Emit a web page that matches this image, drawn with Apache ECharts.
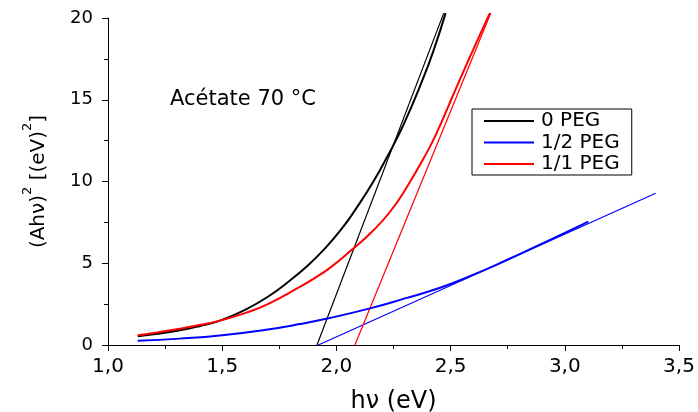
<!DOCTYPE html>
<html><head><meta charset="utf-8">
<script src="https://cdn.jsdelivr.net/npm/echarts@6/dist/echarts.min.js"></script>
<style>html,body{margin:0;padding:0;background:#fff}#c{width:698px;height:412px}</style>
</head><body><div id="c"></div><script>
// 0 PEG
const hv0 = [1.13,1.2,1.315,1.4,1.49,1.6,1.7,1.797,1.87,1.943,2.02,2.089,2.16,2.22,2.293,2.381,2.43,2.478];
const a0  = [0.53,0.66,0.9,1.15,1.49,2.15,2.95,3.95,4.8,5.8,7.05,8.4,9.95,11.45,13.45,16.35,18.2,20.3];
// 1/2 PEG
const hv12 = [1.13,1.315,1.5,1.7,1.84,1.96,2.147,2.3,2.454,2.6,2.746,2.9,3.0,3.103];
const a12  = [0.26,0.39,0.6,0.95,1.28,1.62,2.24,2.85,3.5,4.3,5.2,6.2,6.85,7.54];
// 1/1 PEG
const hv11 = [1.13,1.2,1.315,1.4,1.49,1.6,1.7,1.84,1.9,1.97,2.07,2.15,2.235,2.31,2.395,2.44,2.49,2.527,2.6,2.672];
const a11  = [0.6,0.74,1.0,1.22,1.49,1.95,2.5,3.55,4.05,4.7,5.85,6.85,8.15,9.7,11.75,13.0,14.6,15.8,18.1,20.3];
// tangent (extrapolation) lines
const hvT0 = [1.915,2.47],  aT0 = [0,20.3];
const hvT12 = [1.921,3.398], aT12 = [0,9.28];
const hvT11 = [2.081,2.676], aT11 = [0,20.3];

const names = ['0 PEG','1/2 PEG','1/1 PEG'];
const colors = ['#000000','#0000ff','#ff0000'];
const xTicks = [1.0,1.5,2.0,2.5,3.0,3.5];
const yTicks = [0,5,10,15,20];
const FF = 'DejaVu Sans';

const zip = (xs, ys) => xs.map((x,i)=>[x, ys[i]]);

function curve(name, color, xs, ys){
  return {type:'line', name, data: zip(xs,ys), showSymbol:false, symbol:'none', smooth:0.5,
    clip:false, lineStyle:{color, width:2}, itemStyle:{color}, z:3};
}
function tangent(name, color, xs, ys){
  return {type:'line', name, data: zip(xs,ys), showSymbol:false, symbol:'none',
    clip:false, lineStyle:{color, width:1.2}, itemStyle:{color}, z:2};
}

const chart = echarts.init(document.getElementById('c'), null, {renderer:'canvas'});
chart.setOption({
  animation:false,
  backgroundColor:'#fff',
  grid:{left:108, right:19, top:18, bottom:67, outerBoundsMode:'none', containLabel:false},
  xAxis:{type:'value', min:xTicks[0], max:xTicks[xTicks.length-1], interval:0.5,
    name:'hν (eV)', nameLocation:'middle', nameGap:45,
    nameTextStyle:{fontFamily:FF, fontSize:24, color:'#000'},
    axisLine:{show:true, onZero:false, lineStyle:{color:'#000', width:1}},
    axisTick:{show:true, inside:false, length:6, lineStyle:{color:'#000'}},
    minorTick:{show:true, splitNumber:2, length:4, lineStyle:{color:'#000'}},
    splitLine:{show:false},
    axisLabel:{margin:12, fontFamily:FF, fontSize:20, color:'#000',
      formatter:v=>v.toFixed(1).replace('.',',')}},
  yAxis:{type:'value', min:yTicks[0], max:yTicks[yTicks.length-1], interval:5,
    name:'{a|(Ahν)}{s|2}{a| [(eV)}{s|2}{a|]}', nameLocation:'middle', nameGap:59, nameRotate:90,
    nameTextStyle:{fontFamily:FF, fontSize:20, color:'#000',
      rich:{a:{fontFamily:FF, fontSize:20, color:'#000', lineHeight:28, verticalAlign:'bottom'},
            s:{fontFamily:FF, fontSize:13, color:'#000', lineHeight:28, verticalAlign:'top'}}},
    axisLine:{show:true, lineStyle:{color:'#000', width:1}},
    axisTick:{show:true, inside:false, length:6, lineStyle:{color:'#000'}},
    minorTick:{show:true, splitNumber:2, length:4, lineStyle:{color:'#000'}},
    splitLine:{show:false},
    axisLabel:{margin:15, fontFamily:FF, fontSize:18, color:'#000'}},
  legend:{orient:'vertical', left:472, top:109, data:names, icon:'rect',
    itemWidth:50, itemHeight:2, itemGap:1.5,
    padding:[2,12,1,12], borderColor:'#000', borderWidth:1, borderRadius:0,
    textStyle:{fontFamily:FF, fontSize:20, color:'#000', padding:[0,0,0,2]}},
  graphic:[{type:'text', left:170, top:89, style:{text:'Acétate 70 °C', font:'21px "DejaVu Sans"', fill:'#000'}}],
  series:[
    curve(names[0], colors[0], hv0, a0),
    curve(names[1], colors[1], hv12, a12),
    curve(names[2], colors[2], hv11, a11),
    tangent(names[0], colors[0], hvT0, aT0),
    tangent(names[1], colors[1], hvT12, aT12),
    tangent(names[2], colors[2], hvT11, aT11)
  ]
});
</script></body></html>
